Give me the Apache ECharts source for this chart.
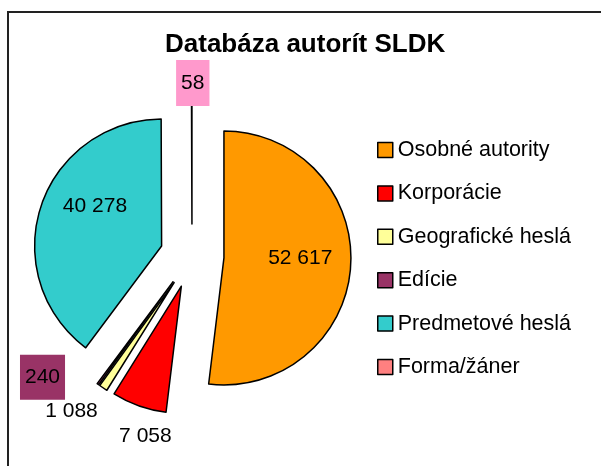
<!DOCTYPE html>
<html>
<head>
<meta charset="utf-8">
<script src="https://cdn.jsdelivr.net/npm/echarts@6/dist/echarts.min.js"></script>
<style>
html, body { margin: 0; padding: 0; background: #fff; }
#chart { width: 601px; height: 466px; }
</style>
</head>
<body>
<div id="chart"></div>
<script>
const categories = ['Osobné autority', 'Korporácie', 'Geografické heslá', 'Edície', 'Predmetové heslá', 'Forma/žáner'];
const values = [52617, 7058, 1088, 240, 40278, 58];
const colors = ['#FF9900', '#FF0000', '#FFFF99', '#993366', '#33CCCC', '#FF8080'];

// label look per slice
const labelPos = ['inside', 'outside', 'outside', 'outside', 'inside', 'outside'];
const labelBg = [null, null, null, '#993366', null, '#FF99CC'];
const labelPad = [0, 0, 0, [8, 5, 16, 5], 0, [7, 5, 18, 5]];
// nudges from the default place to where Excel put the labels
const labelShift = [[41.9, -1.6], [30.3, 51.2], [-12.8, 41.5], [-40.9, 10.8], [-33.9, -29], [22.7, -36]];

function fmt(v) {
    return String(v).replace(/\B(?=(\d{3})+(?!\d))/g, ' ');
}

const font = 'Liberation Sans, Arial, sans-serif';
const pieBase = {
    type: 'pie',
    center: [192, 256],
    radius: 127,
    startAngle: 90,
    clockwise: true,
    avoidLabelOverlap: false,
    emphasis: { disabled: true }
};

const chart = echarts.init(document.getElementById('chart'));
chart.setOption({
    animation: false,
    title: {
        text: 'Databáza autorít SLDK',
        left: 160,
        top: 27,
        textStyle: { fontFamily: font, fontSize: 26, fontWeight: 'bold', color: '#000' }
    },
    graphic: [{
        type: 'rect',
        silent: true,
        shape: { x: 8, y: 12, width: 700, height: 600 },
        style: { fill: 'none', stroke: '#222', lineWidth: 2 }
    }],
    legend: {
        orient: 'vertical',
        left: 372,
        top: 134,
        itemWidth: 15,
        itemHeight: 15,
        itemGap: 21.4,
        icon: 'rect',
        selectedMode: false,
        itemStyle: { borderColor: '#000', borderWidth: 1.5 },
        textStyle: { fontFamily: font, fontSize: 21.5, lineHeight: 21, color: '#000' },
        data: categories
    },
    series: [
        // exploded slices
        Object.assign({}, pieBase, {
            selectedMode: 'multiple',
            selectedOffset: 32,
            itemStyle: { borderColor: '#000', borderWidth: 1.5 },
            label: { show: false },
            labelLine: { show: false },
            data: categories.map((name, i) => ({
                name: name,
                value: values[i],
                selected: true,
                itemStyle: { color: colors[i] }
            }))
        }),
        // data labels on an invisible copy
        Object.assign({}, pieBase, {
            silent: true,
            itemStyle: { color: 'rgba(0,0,0,0)', borderWidth: 0 },
            labelLine: { show: false, length: 10, length2: 0 },
            label: {
                fontFamily: font,
                fontSize: 21,
                color: '#000',
                formatter: p => fmt(p.value)
            },
            labelLayout: p => {
                const s = labelShift[p.dataIndex];
                return {
                    x: p.labelRect.x + p.labelRect.width / 2 + s[0],
                    y: p.labelRect.y + p.labelRect.height / 2 + s[1],
                    align: 'center',
                    verticalAlign: 'middle'
                };
            },
            data: categories.map((name, i) => ({
                name: name,
                value: values[i],
                label: {
                    position: labelPos[i],
                    backgroundColor: labelBg[i] || 'transparent',
                    padding: labelPad[i]
                }
            }))
        })
    ]
});
</script>
</body>
</html>
